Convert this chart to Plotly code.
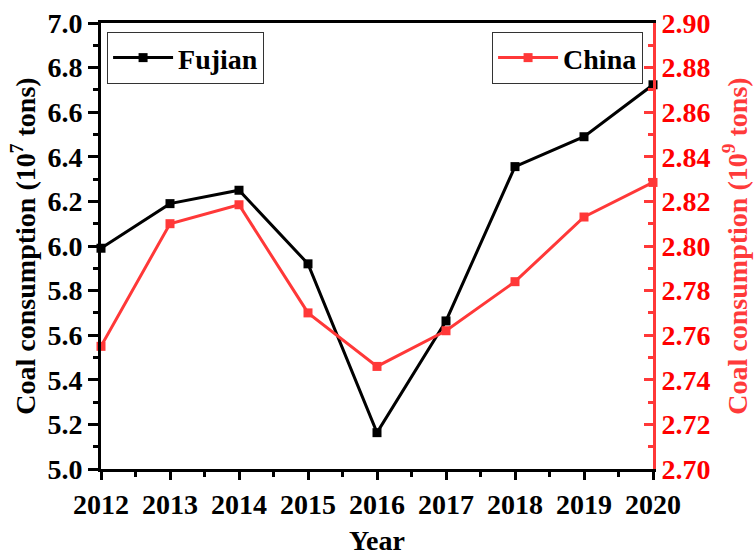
import plotly.graph_objects as go

years = [2012, 2013, 2014, 2015, 2016, 2017, 2018, 2019, 2020]
fujian = [5.99, 6.19, 6.25, 5.92, 5.163, 5.664, 6.356, 6.49, 6.723]   # 10^7 tons
china = [2.755, 2.810, 2.8185, 2.770, 2.746, 2.762, 2.784, 2.813, 2.8285]  # 10^9 tons

FONT = "Liberation Serif"
RED_LINE = "#FF3838"
RED_TEXT = "#FF0000"
RED_TITLE = "#FF3A3A"

fig = go.Figure()
fig.add_trace(go.Scatter(
    x=years, y=fujian, name="<b>Fujian</b>", mode="lines+markers",
    line=dict(color="black", width=3),
    marker=dict(symbol="square", size=9, color="black"),
    legend="legend", showlegend=True, cliponaxis=False,
))
fig.add_trace(go.Scatter(
    x=years, y=china, name="<b>China</b>", mode="lines+markers",
    line=dict(color=RED_LINE, width=3),
    marker=dict(symbol="square", size=9, color=RED_LINE),
    yaxis="y2", legend="legend2", showlegend=True, cliponaxis=False,
))

legend_common = dict(
    bgcolor="white", bordercolor="#333333", borderwidth=1,
    font=dict(family=FONT, size=28, color="black"),
    itemwidth=60, yanchor="top", y=0.98,
    tracegroupgap=0, visible=True,
)

fig.update_layout(
    width=756, height=556,
    showlegend=True,
    margin=dict(l=101, r=103, t=23, b=87),
    plot_bgcolor="white", paper_bgcolor="white",
    font=dict(family=FONT, size=27, color="black"),
    legend=dict(x=0.011, xanchor="left", **legend_common),
    legend2=dict(x=0.982, xanchor="right", **legend_common),
    xaxis=dict(
        range=[2012, 2020], tickmode="array", tickvals=years,
        ticktext=[f"<b>{y}</b>" for y in years],
        showline=True, linecolor="black", linewidth=3, mirror=True,
        ticks="outside", ticklen=8, tickwidth=3, tickcolor="black",
        minor=dict(dtick=0.5, ticks="outside", ticklen=5, tickwidth=2.5, tickcolor="black"),
        showgrid=False, zeroline=False, automargin=False,
        tickfont=dict(family=FONT, size=28, color="black"),
        title=dict(text="<b>Year</b>", font=dict(family=FONT, size=28, color="black"), standoff=32),
    ),
    yaxis=dict(
        range=[5.0, 7.0], dtick=0.2, tickformat=".1f",
        showline=True, linecolor="black", linewidth=3,
        ticks="outside", ticklen=10, tickwidth=3, tickcolor="black",
        minor=dict(dtick=0.1, ticks="outside", ticklen=5, tickwidth=2.5, tickcolor="black"),
        showgrid=False, zeroline=False, automargin=False,
        tickfont=dict(family=FONT, size=28, color="black", weight="bold"),
        title=dict(text="<b>Coal consumption (10<sup>7</sup> tons)</b>",
                   font=dict(family=FONT, size=28, color="black"), standoff=4),
    ),
    yaxis2=dict(
        range=[2.70, 2.90], dtick=0.02, tickformat=".2f",
        overlaying="y", side="right",
        showline=True, linecolor=RED_LINE, linewidth=3,
        ticks="inside", ticklen=9, tickwidth=3, tickcolor=RED_LINE,
        minor=dict(dtick=0.01, ticks="inside", ticklen=5, tickwidth=2.5, tickcolor=RED_LINE),
        showgrid=False, zeroline=False, automargin=False,
        tickfont=dict(family=FONT, size=28, color=RED_TEXT, weight="bold"),
        title=dict(text="<b>Coal consumption (10<sup>9</sup> tons)</b>",
                   font=dict(family=FONT, size=28, color=RED_TITLE), standoff=18),
    ),
)

fig.write_html("out.html")
